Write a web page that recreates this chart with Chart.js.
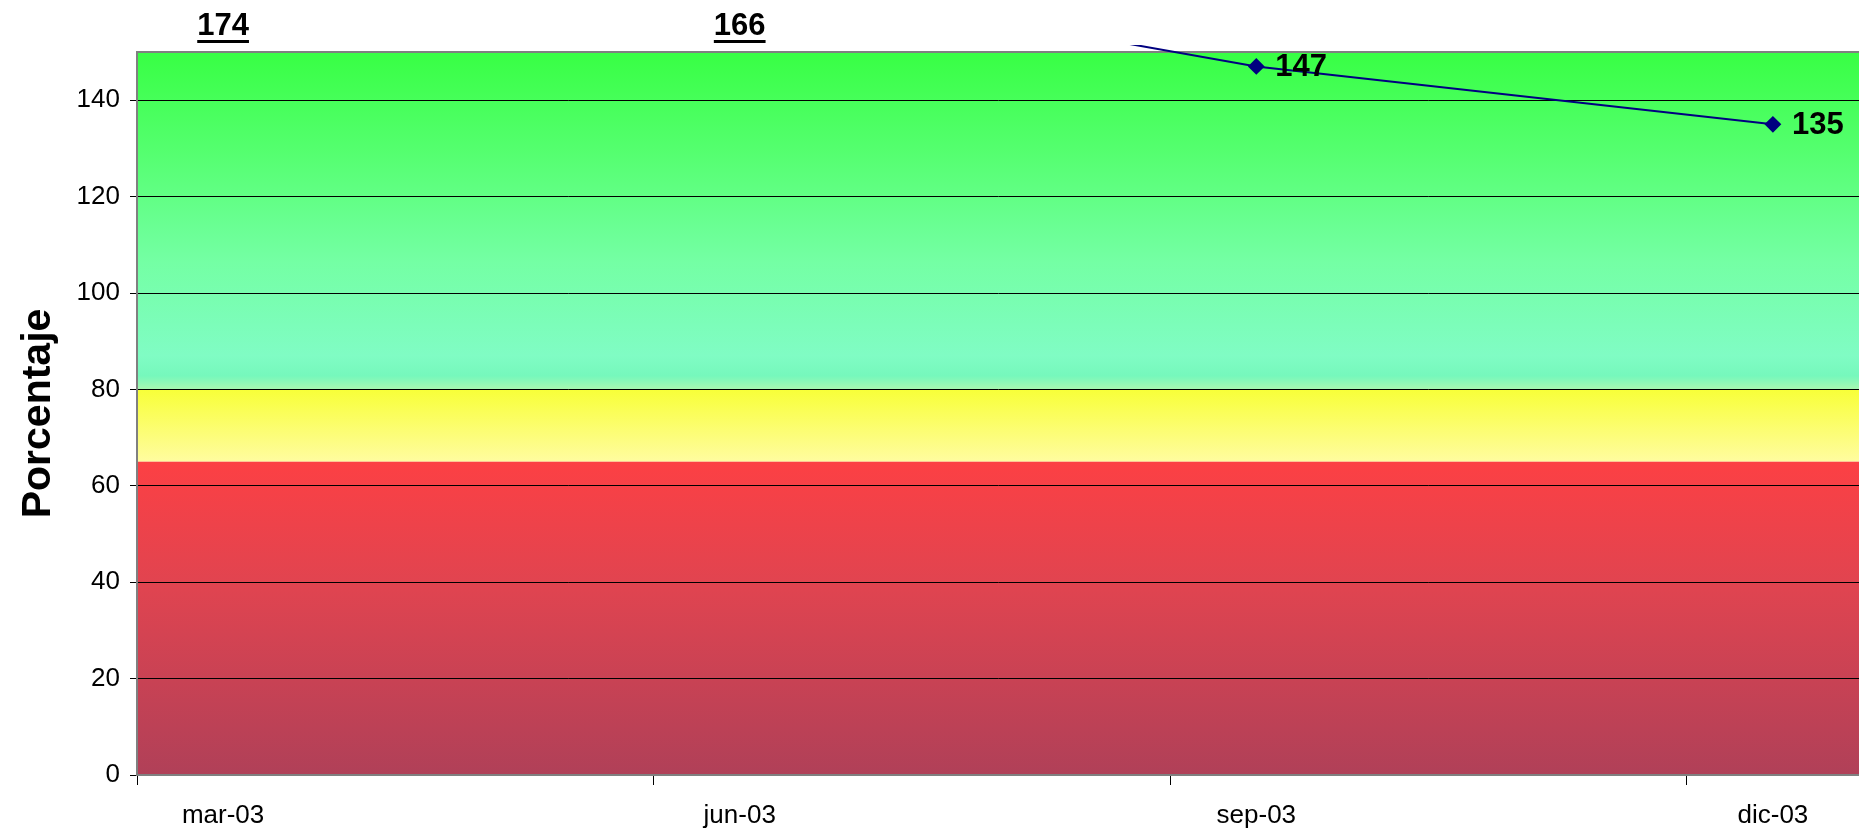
<!DOCTYPE html>
<html>
<head>
<meta charset="utf-8">
<title>Porcentaje</title>
<script src="https://cdn.jsdelivr.net/npm/chart.js@4.4.0/dist/chart.umd.min.js"></script>
<style>
  html, body { margin: 0; padding: 0; background: #fff; overflow: hidden; }
  #wrap { width: 1859px; height: 831px; position: relative; }
</style>
</head>
<body>
<div id="wrap"><canvas id="myChart"></canvas></div>
<script>
// ================= Data =================
const periodos = ['mar-03', 'jun-03', 'sep-03', 'dic-03'];
const posiciones = [0.5, 3.5, 6.5, 9.5];   // month offset of each point
const valores = [174, 166, 147, 135];
const cortesEje = [0, 3, 6, 9];            // tick marks between periods
const ticksY = [0, 20, 40, 60, 80, 100, 120, 140];
const limitesZonas = [0, 65, 80, 150];     // red / yellow / green zones

const FUENTE = 'Arial, "Liberation Sans", sans-serif';


// ================= Background zones =================
const zonasPlugin = {
  id: 'zonas',
  beforeDraw(chart) {
    const { ctx, chartArea: a, scales: { y } } = chart;
    const yR0 = y.getPixelForValue(limitesZonas[0]);
    const yR1 = y.getPixelForValue(limitesZonas[1]);
    const yA1 = y.getPixelForValue(limitesZonas[2]);
    const yV1 = y.getPixelForValue(limitesZonas[3]);

    ctx.save();
    // green
    let g = ctx.createLinearGradient(0, yV1, 0, yA1);
    g.addColorStop(0, '#38ff44');
    g.addColorStop(0.3, '#55ff70');
    g.addColorStop(0.62, '#74ffa4');
    g.addColorStop(0.9, '#80fcc4');
    g.addColorStop(0.96, '#76f8bc');
    g.addColorStop(1, '#a8f8b0');
    ctx.fillStyle = g;
    ctx.fillRect(a.left, yV1, a.right - a.left, yA1 - yV1);
    // yellow
    g = ctx.createLinearGradient(0, yA1, 0, yR1);
    g.addColorStop(0, '#f8ff38');
    g.addColorStop(1, '#fffca0');
    ctx.fillStyle = g;
    ctx.fillRect(a.left, yA1, a.right - a.left, yR1 - yA1);
    // red
    g = ctx.createLinearGradient(0, yR1, 0, yR0);
    g.addColorStop(0, '#fc4044');
    g.addColorStop(0.4, '#e04450');
    g.addColorStop(1, '#b04058');
    ctx.fillStyle = g;
    ctx.fillRect(a.left, yR1, a.right - a.left, yR0 - yR1);

    // top border
    ctx.strokeStyle = '#808080';
    ctx.lineWidth = 2;
    ctx.beginPath();
    ctx.moveTo(a.left, a.top);
    ctx.lineTo(a.right, a.top);
    ctx.stroke();
    ctx.restore();
  }
};


// ================= Data labels =================
const etiquetasPlugin = {
  id: 'etiquetas',
  afterDatasetsDraw(chart) {
    const { ctx, chartArea: a, scales: { x, y } } = chart;
    ctx.save();
    ctx.font = 'bold 31px ' + FUENTE;
    ctx.fillStyle = '#000';
    valores.forEach((v, i) => {
      const px = x.getPixelForValue(posiciones[i]);
      if (v > y.max) {
        // off the scale: label sits above the plot, underlined
        const ty = a.top - 26;
        ctx.textAlign = 'center';
        ctx.textBaseline = 'middle';
        ctx.fillText(String(v), px, ty);
        const w = ctx.measureText(String(v)).width;
        ctx.fillRect(px - w / 2, ty + 14, w, 3);
      } else {
        ctx.textAlign = 'left';
        ctx.textBaseline = 'middle';
        ctx.fillText(String(v), px + 19, y.getPixelForValue(v) + 1);
      }
    });
    ctx.restore();
  }
};


// ================= Chart =================
const ctx = document.getElementById('myChart');

new Chart(ctx, {
  type: 'line',
  data: {
    datasets: [{
      label: 'Porcentaje',
      data: posiciones.map((p, i) => ({ x: p, y: valores[i] })),
      borderColor: '#000080',
      backgroundColor: '#000080',
      borderWidth: 2,
      pointStyle: 'rectRot',
      pointRadius: 7,
      pointHoverRadius: 7,
      tension: 0,
      clip: { left: 0, top: 7, right: 0, bottom: 0 }
    }]
  },
  options: {
    responsive: true,
    maintainAspectRatio: false,
    animation: false,
    devicePixelRatio: 1,
    layout: {
      autoPadding: false,   // no extra inset for the point markers
      padding: { top: 52, left: 0, right: 0, bottom: 0 }
    },
    plugins: {
      legend: { display: false },
      tooltip: { enabled: false }
    },
    scales: {
      x: {
        type: 'linear',
        min: 0,
        max: 10,
        afterBuildTicks: s => {
          s.ticks = [...cortesEje, ...posiciones].sort((a, b) => a - b).map(v => ({ value: v }));
        },
        afterFit: s => {
          s.height = 56;
          s.paddingLeft = 0;
          s.paddingRight = 0;
        },
        ticks: {
          autoSkip: false,
          maxRotation: 0,
          padding: 15,
          color: '#000',
          font: { family: FUENTE, size: 26 },
          callback: v => {
            const i = posiciones.indexOf(v);
            return i >= 0 ? periodos[i] : '';
          }
        },
        grid: {
          drawOnChartArea: false,
          tickLength: 10,
          tickWidth: 1,
          tickColor: c => (c.tick && cortesEje.includes(c.tick.value)) ? '#000' : 'rgba(0,0,0,0)'
        },
        border: { color: '#808080', width: 2 }
      },
      y: {
        min: 0,
        max: 150,
        afterBuildTicks: s => { s.ticks = ticksY.map(v => ({ value: v })); },
        afterFit: s => {
          s.width = 137;
          s.paddingTop = 0;
          s.paddingBottom = 0;
        },
        ticks: {
          padding: 10,
          color: '#000',
          font: { family: FUENTE, size: 26 }
        },
        grid: {
          color: '#000',
          lineWidth: 1,
          tickLength: 7,
          tickColor: '#000'
        },
        border: { color: '#808080', width: 2 },
        title: {
          display: true,
          text: 'Porcentaje',
          color: '#000',
          font: { family: FUENTE, size: 41, weight: 'bold' },
          padding: { top: 14, bottom: 0 }
        }
      }
    }
  },
  plugins: [zonasPlugin, etiquetasPlugin]
});
</script>
</body>
</html>
